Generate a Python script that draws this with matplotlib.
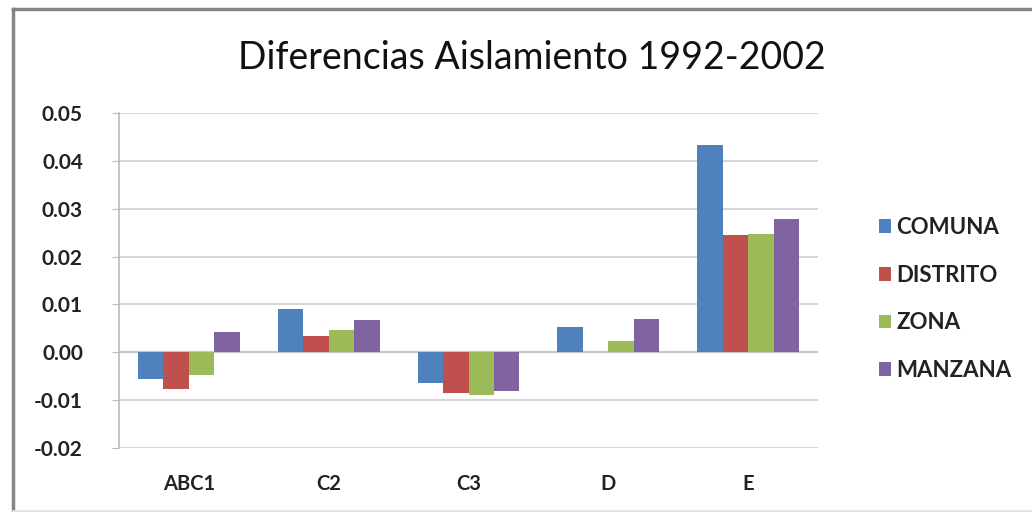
import numpy as np
import matplotlib
matplotlib.use('Agg')
import matplotlib.pyplot as plt
from matplotlib.lines import Line2D

categorias = ['ABC1', 'C2', 'C3', 'D', 'E']
series = ['COMUNA', 'DISTRITO', 'ZONA', 'MANZANA']
comuna = [-0.0055, 0.0091, -0.0064, 0.0052, 0.0433]
distrito = [-0.0076, 0.0035, -0.0086, 0.0, 0.0245]
zona = [-0.0048, 0.0046, -0.0090, 0.0024, 0.0247]
manzana = [0.0042, 0.0067, -0.0081, 0.0069, 0.0278]
colores = ['#4F81BD', '#C0504D', '#9BBB59', '#8064A2']
yticks = [0.05, 0.04, 0.03, 0.02, 0.01, 0.00, -0.01, -0.02]

plt.rcParams['font.family'] = ['Lato', 'DejaVu Sans']

fig = plt.figure(figsize=(10.32, 5.12), dpi=100)
ax = fig.add_axes([119 / 1032, 64 / 512, 699 / 1032, 335 / 512])

x = np.arange(len(categorias))
w = 0.182
datos = [comuna, distrito, zona, manzana]
for i, (nombre, vals) in enumerate(zip(series, datos)):
    ax.bar(x + (i - 1.5) * w, vals, w, color=colores[i], label=nombre, zorder=3)

ax.set_xlim(-0.5, len(categorias) - 0.5)
ax.set_ylim(-0.02, 0.05)
ax.set_yticks(yticks)
ax.set_yticklabels(['%.2f' % v for v in yticks], fontweight='bold', fontsize=15, color='#222222')
ax.set_xticks(x)
ax.set_xticklabels(categorias, fontweight='bold', fontsize=14.5, color='#222222')
ax.tick_params(axis='y', length=5, color='#bbbbbb', pad=21)
ax.tick_params(axis='x', length=0, pad=19)
ax.grid(axis='y', color='#d0d0d0', linewidth=1.2, zorder=0)
ax.axhline(0, color='#c8c8c8', linewidth=1.5, zorder=2)
for s in ['top', 'right']:
    ax.spines[s].set_visible(False)
ax.spines['bottom'].set_visible(False)
ax.spines['left'].set_color('#bbbbbb')
ax.spines['left'].set_linewidth(1.2)

fig.text(0.515, 0.886, 'Diferencias Aislamiento 1992-2002', ha='center', va='center',
         fontsize=27, color='#111111')

leg = fig.legend(loc='center left', bbox_to_anchor=(0.832, 0.416), frameon=False,
                 prop={'weight': 'bold', 'size': 16}, handlelength=0.55, handleheight=0.55,
                 handletextpad=0.25, labelspacing=1.2)
for t in leg.get_texts():
    t.set_color('#222222')

# marco del grafico
fig.lines.append(Line2D([13 / 1032, 13 / 1032], [0, 503 / 512], transform=fig.transFigure,
                        color='#858585', linewidth=2.5))
fig.lines.append(Line2D([13 / 1032, 1], [503 / 512, 503 / 512], transform=fig.transFigure,
                        color='#858585', linewidth=2.5))
fig.lines.append(Line2D([13 / 1032, 1], [1.5 / 512, 1.5 / 512], transform=fig.transFigure,
                        color='#e2e2e2', linewidth=2))

plt.savefig('out.png', dpi=100)
